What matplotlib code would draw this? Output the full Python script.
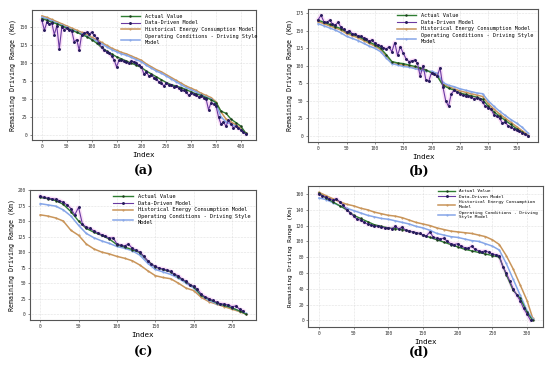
import numpy as np
import matplotlib
matplotlib.use("Agg")
import matplotlib.pyplot as plt

plt.rcParams['font.family'] = ['DejaVu Sans Mono']

# ---- panel (a) ----
knots_a = list(range(0, 420, 10))
actual_a = [162, 160, 157, 155, 152, 149, 146, 143, 140, 137, 133, 128, 122, 117, 113, 109,
            106, 103, 100, 97, 94, 89, 85, 81, 77, 73, 70, 68, 66, 63, 60, 57, 55, 52, 49, 45,
            33, 30, 22, 17, 12, 2]
hist_a = [166, 164, 161, 158, 155, 152, 149, 146, 143, 140, 136, 133, 129, 125, 121, 118,
          115, 113, 110, 107, 104, 99, 95, 91, 88, 84, 80, 76, 72, 68, 65, 62, 58, 55, 52, 46,
          32, 22, 18, 14, 9, 2]
ocds_a = [164, 162, 159, 156, 153, 150, 147, 144, 141, 138, 134, 131, 127, 123, 119, 116,
          113, 111, 108, 105, 102, 97, 93, 89, 86, 82, 78, 74, 70, 66, 63, 60, 56, 53, 50, 44,
          25, 18, 15, 12, 7, 1]
dd_idx_a = list(range(0, 415, 5))
dd_a = [160, 146, 157, 155, 156, 140, 152, 120, 150, 147, 149, 146, 145, 130, 133, 118, 140,
        142, 143, 141, 143, 139, 135, 128, 122, 118, 116, 114, 110, 105, 95, 104, 104, 103,
        101, 100, 103, 102, 100, 97, 95, 85, 88, 82, 84, 80, 78, 74, 73, 68, 72, 70, 69, 67,
        68, 65, 63, 62, 60, 55, 58, 57, 55, 53, 54, 52, 50, 35, 45, 43, 40, 25, 15, 18, 12,
        20, 15, 10, 12, 9, 7, 4, 1]

# ---- panel (b) ----
knots_b = list(range(0, 380, 10))
actual_b = [165, 162, 159, 156, 153, 148, 145, 142, 138, 134, 130, 125, 116, 106, 104, 103,
            101, 99, 97, 94, 90, 85, 72, 68, 65, 61, 59, 57, 55, 52, 42, 34, 28, 22, 16, 10, 5, 0]
hist_b = [163, 160, 157, 154, 151, 146, 143, 140, 136, 132, 128, 123, 114, 105, 103, 101,
          99, 97, 95, 93, 91, 87, 74, 70, 67, 64, 62, 60, 58, 56, 46, 38, 31, 25, 19, 13, 7, 1]
ocds_b = [160, 157, 154, 151, 147, 142, 139, 136, 132, 128, 125, 120, 111, 103, 101, 99,
          98, 96, 94, 92, 92, 89, 76, 72, 70, 67, 65, 63, 61, 60, 50, 42, 35, 29, 23, 18, 12, 4]
dd_idx_b = list(range(0, 375, 5))
dd_b = [166, 172, 163, 162, 165, 160, 158, 162, 155, 152, 148, 150, 146, 145, 143, 142, 140,
        138, 135, 137, 132, 130, 128, 126, 124, 127, 120, 133, 115, 127, 118, 110, 106, 107,
        108, 104,
        85, 100, 80, 78, 90, 88, 85, 97, 70, 50, 42, 60, 65, 62, 60, 58, 57, 56, 55, 53,
        54, 52, 48, 42, 40, 38, 30, 28, 25, 18, 20, 14, 12, 10, 8, 6, 4, 2, 0]

# ---- panel (c) ----
knots_c = list(range(0, 270, 10)) + [268]
actual_c = [188, 186, 183, 177, 165, 150, 138, 132, 127, 121, 112, 108, 104, 99, 86, 76,
            72, 68, 60, 52, 44, 30, 24, 18, 14, 10, 5, 0]
hist_c = [160, 158, 155, 150, 135, 127, 113, 105, 100, 97, 93, 90, 86, 79, 70, 62,
          59, 57, 50, 42, 38, 27, 20, 16, 12, 8, 4, 0]
ocds_c = [178, 176, 174, 168, 158, 143, 130, 123, 118, 114, 109, 106, 102, 95, 82, 72,
          68, 64, 58, 50, 42, 30, 22, 17, 14, 10, 5, 1]
dd_idx_c = list(range(0, 270, 5))
dd_c = [190, 188, 187, 186, 185, 183, 180, 176, 170, 160, 172, 145, 140, 138, 134, 131,
        128, 126, 122, 123, 113, 111, 110, 113, 106, 103, 100, 93, 86, 80, 77, 74, 73, 71,
        69, 64, 62, 56, 53, 47, 45, 40, 32, 28, 25, 22, 19, 17, 16, 15, 12, 13, 8, 5]

# ---- panel (d) ----
knots_d = list(range(0, 310, 10)) + [308]
actual_d = [161, 155, 150, 145, 140, 133, 129, 125, 121, 119, 117, 116, 115, 113, 111, 108,
            105, 102, 99, 96, 93, 90, 88, 86, 84, 82, 80, 58, 38, 28, 10, 0]
hist_d = [162, 158, 154, 150, 147, 145, 142, 140, 137, 135, 133, 132, 130, 127, 124, 122,
          120, 117, 115, 113, 112, 111, 110, 108, 106, 102, 96, 82, 65, 45, 25, 3]
ocds_d = [155, 153, 149, 145, 142, 139, 136, 133, 131, 129, 128, 126, 124, 122, 119, 117,
          114, 110, 108, 106, 105, 103, 101, 100, 97, 94, 89, 72, 52, 32, 12, 2]
dd_idx_d = list(range(0, 310, 5))
dd_d = [160, 158, 156, 154, 152, 154, 150, 146, 140, 136, 132, 128, 127, 124, 122, 121,
        119, 119, 118, 117, 117, 116, 119, 116, 118, 114, 113, 112, 111, 110, 108, 107, 112,
        105, 104, 103, 104, 100, 97, 96, 97, 94, 92, 91, 94, 90, 88, 87, 88, 86, 84, 83, 82,
        68, 60, 50, 40, 32, 25, 15, 8, 0]

labels = ["Actual Value", "Data-Driven Model", "Historical Energy Consumption Model",
          "Operating Conditions - Driving Style\nModel"]
labels_d = ["Actual Value", "Data-Driven Model", "Historical Energy Consumption\nModel",
            "Operating Conditions - Driving\nStyle Model"]

c_actual = '#2e7d32'
c_dd = '#6a3aa2'
c_hist = '#c9955a'
c_ocds = '#86a6e8'

fig = plt.figure(figsize=(5.5, 3.69), dpi=100)

panels = [
    ([0.0576, 0.6206, 0.408, 0.3523], knots_a, actual_a, hist_a, ocds_a, dd_idx_a, dd_a,
     np.arange(0, 401, 50), np.arange(0, 151, 25), labels, (0.38, 1.0), 3.7, 4.8, '(a)', (0.262, 0.535)),
    ([0.5595, 0.616, 0.4193, 0.3588], knots_b, actual_b, hist_b, ocds_b, dd_idx_b, dd_b,
     np.arange(0, 351, 50), np.arange(0, 176, 25), labels, (0.37, 1.0), 3.7, 4.8, '(b)', (0.762, 0.535)),
    ([0.0545, 0.1328, 0.411, 0.3523], knots_c, actual_c, hist_c, ocds_c, dd_idx_c, dd_c,
     np.arange(0, 251, 50), np.arange(0, 201, 25), labels, (0.35, 1.0), 3.8, 4.8, '(c)', (0.262, 0.045)),
    ([0.5605, 0.1146, 0.4273, 0.3813], knots_d, actual_d, hist_d, ocds_d, dd_idx_d, dd_d,
     np.arange(0, 301, 50), np.arange(0, 161, 20), labels_d, (0.54, 1.0), 3.2, 4.3, '(d)', (0.762, 0.045)),
]

for rect, kx, act, hist, ocds, dx, dd, xt, yt, labs, lpos, lfs, yfs, tag, tpos in panels:
    ax = fig.add_axes(rect)
    ax.plot(kx, act, color=c_actual, lw=1.0, marker='.', ms=1.5, mfc='#1b3b1b', mec='#1b3b1b',
            label=labs[0], zorder=3)
    ax.plot(dx, dd, color='#f2a6ea', lw=3.0, alpha=0.35, zorder=1)
    ax.plot(dx, dd, color=c_dd, lw=0.8, marker='.', ms=2.2, mfc='#241a5a', mec='#241a5a',
            label=labs[1], zorder=4)
    ax.plot(kx, hist, color=c_hist, lw=1.1, marker='.', ms=1.0, label=labs[2], zorder=2)
    ax.plot(kx, ocds, color=c_ocds, lw=1.1, marker='.', ms=1.0, label=labs[3], zorder=2)

    ax.set_xticks(xt)
    ax.set_yticks(yt)
    ax.tick_params(labelsize=3.3, length=1.5, width=0.4, pad=1.5, colors='#333333')
    ax.grid(True, ls=':', lw=0.4, color='#c8c8c8')
    for s in ax.spines.values():
        s.set_color('#555555')
        s.set_linewidth(0.8)
    ax.set_xlabel('Index', fontsize=5.4, labelpad=2)
    ax.set_ylabel('Remaining Driving Range (Km)', fontsize=yfs, labelpad=2)
    ax.legend(loc='upper left', bbox_to_anchor=lpos, frameon=False, fontsize=lfs,
              handlelength=3.8, handletextpad=0.9, labelspacing=0.35, borderpad=0.2)
    fig.text(tpos[0], tpos[1], tag, fontsize=9, fontweight='bold', family='DejaVu Serif',
             ha='center', va='center')

fig.savefig('out.png', dpi=100)
